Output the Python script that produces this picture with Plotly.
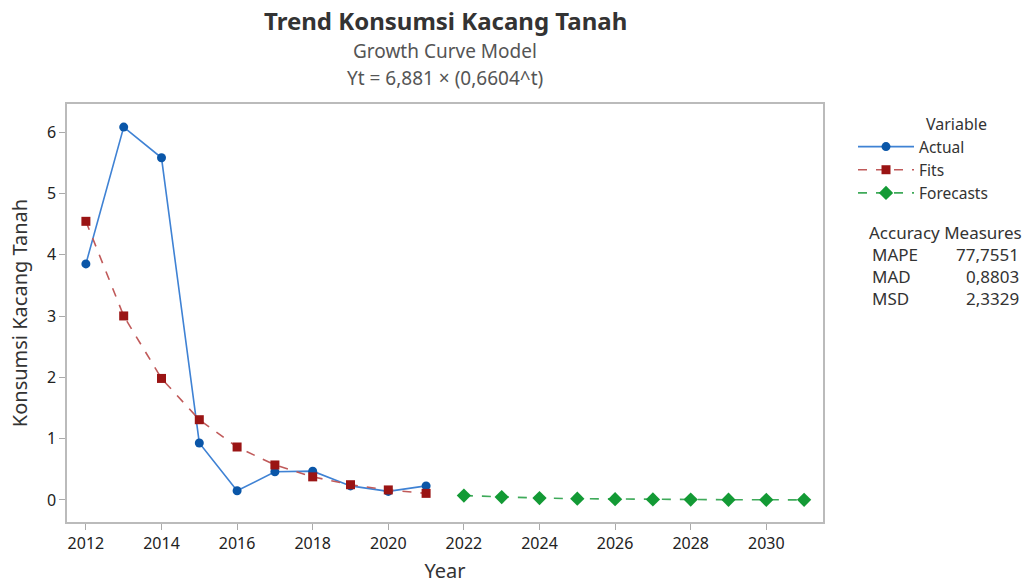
import plotly.graph_objects as go

years_actual = [2012, 2013, 2014, 2015, 2016, 2017, 2018, 2019, 2020, 2021]
actual = [3.85, 6.08, 5.58, 0.93, 0.15, 0.46, 0.47, 0.23, 0.14, 0.23]
fits = [4.544, 3.001, 1.982, 1.309, 0.864, 0.571, 0.377, 0.249, 0.164, 0.108]
years_fc = [2022, 2023, 2024, 2025, 2026, 2027, 2028, 2029, 2030, 2031]
forecasts = [0.072, 0.047, 0.031, 0.021, 0.014, 0.009, 0.006, 0.004, 0.003, 0.002]
x_ticks = [2012, 2014, 2016, 2018, 2020, 2022, 2024, 2026, 2028, 2030]
y_ticks = [0, 1, 2, 3, 4, 5, 6]
measures = ["MAPE", "MAD", "MSD"]
measure_vals = ["77,7551", "0,8803", "2,3329"]

FONT = "Noto Sans"
W, H = 1033, 584
ML, MR, MT, MB = 67, 210, 104, 62

def px_to_paper_x(px):
    return (px - ML) / (W - ML - MR)

def py_to_paper_y(py):
    return (H - MB - py) / (H - MT - MB)

fig = go.Figure()
fig.add_trace(go.Scatter(x=years_actual, y=actual, name="Actual", mode="lines+markers",
                         line=dict(color="#3F82D4", width=1.6),
                         marker=dict(symbol="circle", size=9, color="#0A56A8")))
fig.add_trace(go.Scatter(x=years_actual, y=fits, name="Fits", mode="lines+markers",
                         line=dict(color="#C05A5A", width=1.6, dash="dash"),
                         marker=dict(symbol="square", size=9, color="#9A1414")))
fig.add_trace(go.Scatter(x=years_fc, y=forecasts, name="Forecasts", mode="lines+markers",
                         line=dict(color="#3FAA5A", width=1.6, dash="dash"),
                         marker=dict(symbol="diamond", size=11, color="#139A35")))

fig.update_layout(
    width=W, height=H,
    margin=dict(l=ML, r=MR, t=MT, b=MB, autoexpand=False),
    paper_bgcolor="white", plot_bgcolor="white",
    font=dict(family=FONT, color="#333333", size=16),
    showlegend=True,
    legend=dict(x=px_to_paper_x(853), y=py_to_paper_y(130), xanchor="left", yanchor="top",
                font=dict(size=15.5, color="#333333"), tracegroupgap=0, itemwidth=56,
                bgcolor="rgba(0,0,0,0)"),
    xaxis=dict(range=[2011.5, 2031.5], tickmode="array", tickvals=x_ticks, automargin=False,
               ticks="outside", ticklen=6, tickcolor="#AAAAAA", showgrid=False, zeroline=False,
               showline=True, linecolor="#BBBBBB", linewidth=1.5, mirror=True,
               tickfont=dict(size=16, color="#222222"),
               title=dict(text="Year", font=dict(size=20, color="#333333"), standoff=17)),
    yaxis=dict(range=[-0.359, 6.457], tickmode="array", tickvals=y_ticks, automargin=False,
               ticks="outside", ticklen=6, tickcolor="#AAAAAA", showgrid=False, zeroline=False,
               showline=True, linecolor="#BBBBBB", linewidth=1.5, mirror=True,
               tickfont=dict(size=16, color="#222222"),
               title=dict(text="Konsumsi Kacang Tanah", font=dict(size=20, color="#333333"), standoff=14)),
)

titles = [
    ("<b>Trend Konsumsi Kacang Tanah</b>", 20, 24, "#333333"),
    ("Growth Curve Model", 51, 19, "#555555"),
    ("Yt = 6,881 × (0,6604^t)", 78, 19, "#555555"),
]
for text, ypx, size, color in titles:
    fig.add_annotation(text=text, xref="paper", x=0.5, yref="paper", y=py_to_paper_y(ypx),
                       showarrow=False, xanchor="center", yanchor="middle",
                       font=dict(size=size, color=color, family=FONT))

fig.add_annotation(text="Variable", xref="paper", yref="paper",
                   x=px_to_paper_x(924), y=py_to_paper_y(124), showarrow=False,
                   xanchor="left", yanchor="middle", font=dict(size=16, color="#333333", family=FONT))
fig.add_annotation(text="Accuracy Measures", xref="paper", yref="paper",
                   x=px_to_paper_x(945), y=py_to_paper_y(232), showarrow=False,
                   xanchor="center", yanchor="middle", font=dict(size=17, color="#333333", family=FONT))
for i, (m, v) in enumerate(zip(measures, measure_vals)):
    yy = py_to_paper_y(254 + 22 * i)
    fig.add_annotation(text=m, xref="paper", yref="paper", x=px_to_paper_x(870), y=yy,
                       showarrow=False, xanchor="left", yanchor="middle",
                       font=dict(size=17, color="#333333", family=FONT))
    fig.add_annotation(text=v, xref="paper", yref="paper", x=px_to_paper_x(1021), y=yy,
                       showarrow=False, xanchor="right", yanchor="middle",
                       font=dict(size=17, color="#333333", family=FONT))

fig.write_html("out.html", config={"displayModeBar": False},
               post_script="document.body.style.margin='0';")
